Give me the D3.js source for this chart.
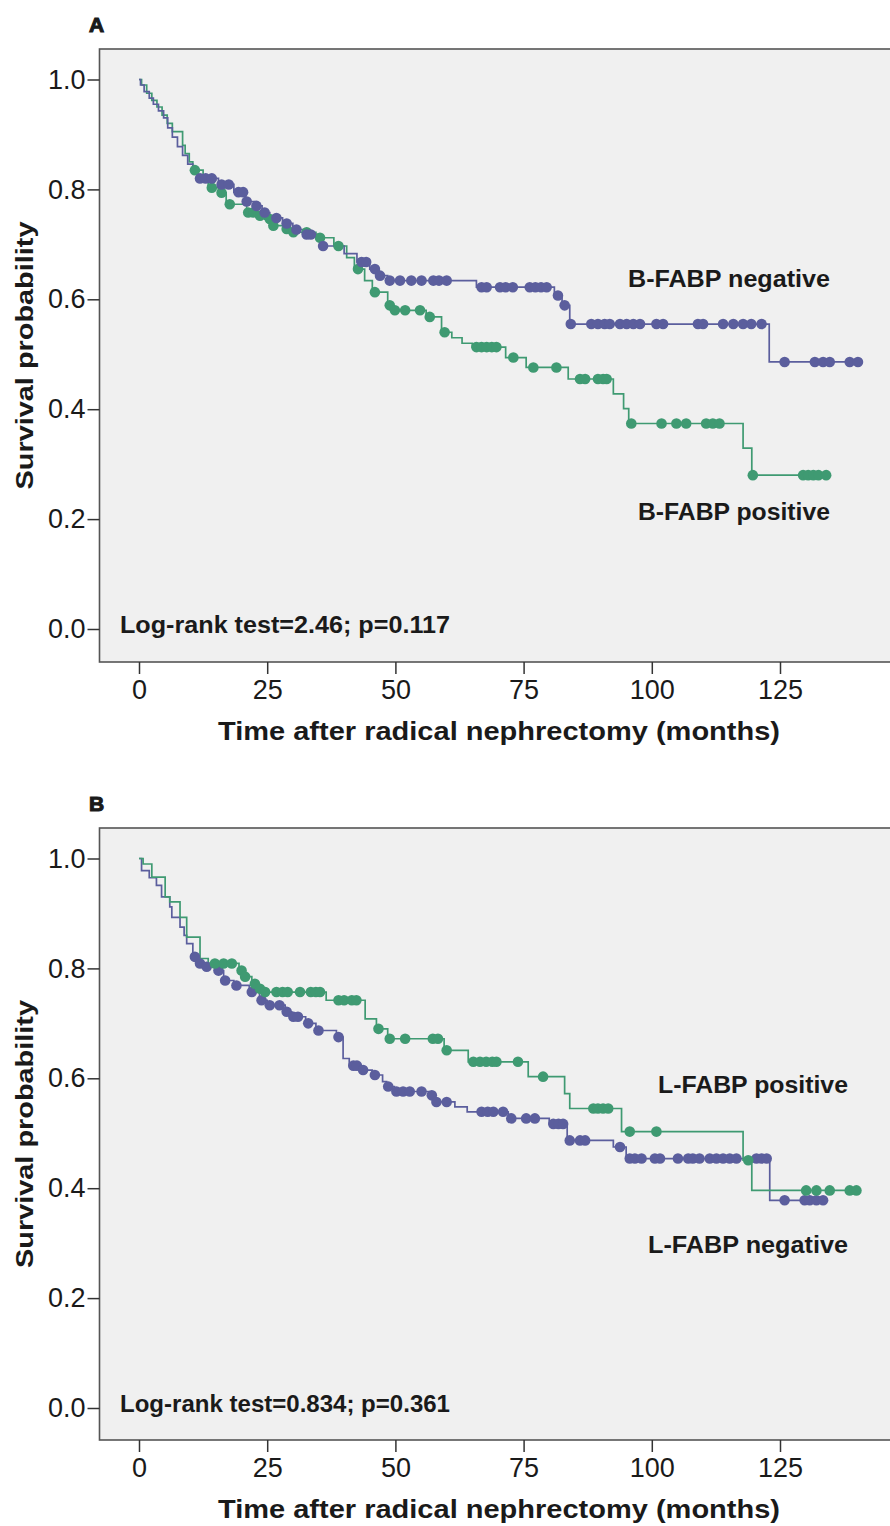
<!DOCTYPE html>
<html><head><meta charset="utf-8">
<script src="https://cdn.jsdelivr.net/npm/d3@7"></script>
<style>body{margin:0;background:#fff}svg{display:block}text{font-family:"Liberation Sans",Arial,sans-serif;fill:#1a1a1a}</style>
</head><body><svg id="c" width="890" height="1526"></svg>
<script>
const timeTicks = [0, 25, 50, 75, 100, 125];
const survTicks = [0.0, 0.2, 0.4, 0.6, 0.8, 1.0];
const panelLetters = ["A", "B"];
const xTitle = "Time after radical nephrectomy (months)";
const yTitle = "Survival probability";
const logRankTexts = ["Log-rank test=2.46; p=0.117", "Log-rank test=0.834; p=0.361"];
const groupLabelsA = ["B-FABP negative", "B-FABP positive"];
const groupLabelsB = ["L-FABP positive", "L-FABP negative"];

// Panel A, B-FABP negative: [time, survival after event]
const aNegSteps = [[0.3,0.99],[1.0,0.978],[2.0,0.966],[2.8,0.955],[3.8,0.943],[4.8,0.93],[5.6,0.912],[6.5,0.895],[7.5,0.878],[8.5,0.862],[9.5,0.846],[10.5,0.832],[11.5,0.82],[15.5,0.809],[18.5,0.795],[20.8,0.778],[22.5,0.77],[24.0,0.758],[25.5,0.748],[28.0,0.738],[30.0,0.727],[32.0,0.718],[35.5,0.697],[40.0,0.683],[42.5,0.668],[45.0,0.655],[46.8,0.643],[48.5,0.634],[65.8,0.622],[81.0,0.607],[82.5,0.589],[84.0,0.555],[122.9,0.486]];
const aNegCensor = [11.9,13.0,14.2,16.1,17.5,19.4,20.3,21.0,22.9,24.5,26.8,28.8,30.7,32.7,33.5,35.9,43.4,44.3,46.0,47.0,48.9,50.9,53.1,55.1,57.4,58.5,60.0,66.8,67.8,70.4,71.5,72.9,76.2,77.3,78.4,79.5,81.7,83.0,84.2,88.2,89.5,90.8,91.8,93.8,95.1,96.4,97.7,100.9,102.2,109.0,110.0,113.9,115.9,117.8,119.4,121.4,125.9,131.8,133.4,134.7,138.6,140.2];
// Panel A, B-FABP positive
const aPosSteps = [[0.5,0.99],[1.5,0.975],[2.5,0.962],[3.5,0.95],[4.5,0.935],[5.5,0.92],[6.5,0.905],[8.5,0.88],[9.0,0.865],[9.8,0.85],[10.5,0.835],[12.5,0.82],[13.5,0.803],[15.5,0.794],[17.0,0.773],[21.0,0.758],[23.0,0.752],[24.5,0.746],[26.0,0.734],[28.5,0.728],[30.0,0.722],[34.5,0.712],[38.0,0.697],[40.5,0.676],[42.0,0.655],[44.0,0.634],[45.5,0.613],[48.5,0.589],[49.5,0.58],[56.0,0.568],[59.0,0.54],[61.0,0.53],[63.0,0.52],[65.0,0.513],[71.5,0.494],[75.5,0.476],[83.7,0.455],[92.5,0.428],[94.5,0.401],[95.5,0.374],[117.8,0.329],[119.5,0.28]];
const aPosCensor = [10.9,14.2,16.1,17.7,21.3,22.3,23.6,25.5,26.2,28.8,30.1,32.7,35.3,38.9,42.7,46.0,48.9,49.9,51.9,54.8,56.7,59.6,65.8,66.8,67.8,68.8,69.7,73.0,76.9,81.4,86.0,87.0,89.5,90.5,91.2,96.0,101.9,104.8,106.7,110.6,111.9,113.2,119.7,129.5,130.5,131.5,132.5,134.0];
// Panel B, L-FABP negative
const bNegSteps = [[0.5,0.978],[2.0,0.965],[3.4,0.951],[4.4,0.93],[6.0,0.912],[6.4,0.893],[8.0,0.875],[8.8,0.86],[9.3,0.845],[10.5,0.821],[11.5,0.809],[13.0,0.803],[15.0,0.796],[16.5,0.778],[18.5,0.769],[21.5,0.757],[23.5,0.742],[25.0,0.733],[28.5,0.721],[29.8,0.712],[32.5,0.70],[34.5,0.687],[38.5,0.675],[39.8,0.636],[41.0,0.623],[43.0,0.615],[45.5,0.606],[47.5,0.594],[48.3,0.585],[49.8,0.576],[56.5,0.569],[57.8,0.557],[61.6,0.548],[64.0,0.539],[72.0,0.527],[80.0,0.517],[83.5,0.487],[92.5,0.475],[95.0,0.454],[123.0,0.378]];
const bNegCensor = [10.9,11.9,13.2,15.5,16.8,19.0,22.0,23.9,25.5,27.4,28.8,30.1,31.0,33.0,35.0,38.9,41.8,42.5,43.7,46.0,48.6,50.2,51.5,52.8,55.1,57.1,58.0,60.0,66.8,68.0,69.1,71.0,72.6,75.5,77.2,80.8,81.8,82.7,84.0,86.0,87.0,93.8,95.7,96.7,98.0,100.6,101.6,105.1,107.1,108.0,109.3,111.3,112.6,113.9,115.2,116.5,120.4,121.4,122.4,125.9,129.8,130.8,132.1,133.4];
// Panel B, L-FABP positive
const bPosSteps = [[0.8,0.99],[2.5,0.966],[5.1,0.93],[6.0,0.921],[8.0,0.893],[9.3,0.857],[11.9,0.818],[13.5,0.809],[19.5,0.796],[20.5,0.785],[22.0,0.772],[23.2,0.763],[24.3,0.757],[36.5,0.742],[44.1,0.708],[46.3,0.69],[48.5,0.672],[59.5,0.651],[64.2,0.63],[75.9,0.603],[83.0,0.572],[84.0,0.545],[94.1,0.503],[117.8,0.451],[119.5,0.396]];
const bPosCensor = [14.8,16.5,18.1,20.0,20.7,22.6,23.6,24.6,26.8,28.0,29.0,31.4,33.5,34.5,35.3,38.9,40.0,41.5,42.4,46.7,48.9,51.9,57.3,58.3,60.0,65.2,66.5,67.7,68.9,69.7,73.9,78.8,88.6,89.5,90.5,91.5,95.7,100.9,118.8,130.1,132.1,134.7,138.6,139.9];

const BLUE = "#5b5e9d", GREEN = "#3f9a72";

const panels = [
  {letter: panelLetters[0], top: 49, bottom: 662, logRank: logRankTexts[0],
   series: [{steps: aPosSteps, censor: aPosCensor, color: GREEN}, {steps: aNegSteps, censor: aNegCensor, color: BLUE}],
   labels: [{text: groupLabelsA[0], x: 729, y: 287, w: 202}, {text: groupLabelsA[1], x: 734, y: 520, w: 192}]},
  {letter: panelLetters[1], top: 828, bottom: 1440, logRank: logRankTexts[1],
   series: [{steps: bNegSteps, censor: bNegCensor, color: BLUE}, {steps: bPosSteps, censor: bPosCensor, color: GREEN}],
   labels: [{text: groupLabelsB[0], x: 753, y: 1093, w: 190}, {text: groupLabelsB[1], x: 748, y: 1253, w: 200}]}
];

const svg = d3.select("#c");
const left = 99.5, right = 893;
const x = d3.scaleLinear().domain([0, 125]).range([139, 780]);

function survAt(steps, t) {
  let s = 1;
  for (const [st, ss] of steps) if (st <= t) s = ss;
  return s;
}

panels.forEach(p => {
  const y = d3.scaleLinear().domain([0, 1]).range([p.top + 30 + 550, p.top + 30 + 0.5]);
  const g = svg.append("g");
  g.append("rect").attr("x", left).attr("y", p.top).attr("width", right - left).attr("height", p.bottom - p.top)
    .attr("fill", "#f0f0f0").attr("stroke", "#555").attr("stroke-width", 1.6);

  g.append("text").attr("x", 96.5).attr("y", p.top - 17).attr("text-anchor", "middle")
    .attr("font-size", 21).attr("font-weight", "bold").attr("stroke", "#1a1a1a").attr("stroke-width", 1.1)
    .text(p.letter);

  // y axis
  const ya = g.append("g").attr("transform", `translate(${left},0)`)
    .call(d3.axisLeft(y).tickValues(survTicks).tickFormat(d3.format(".1f")).tickSize(12).tickPadding(2));
  ya.select(".domain").remove();
  ya.selectAll("line").attr("stroke", "#333").attr("stroke-width", 1.5);
  ya.selectAll("text").attr("font-size", 27).attr("fill", "#222").attr("font-family", "Liberation Sans, Arial, sans-serif");

  // x axis
  const xa = g.append("g").attr("transform", `translate(0,${p.bottom})`)
    .call(d3.axisBottom(x).tickValues(timeTicks).tickFormat(d3.format("d")).tickSize(12).tickPadding(6));
  xa.select(".domain").remove();
  xa.selectAll("line").attr("stroke", "#333").attr("stroke-width", 1.5);
  xa.selectAll("text").attr("font-size", 27).attr("fill", "#222").attr("font-family", "Liberation Sans, Arial, sans-serif");

  g.append("text").attr("x", 499).attr("y", p.bottom + 78).attr("text-anchor", "middle")
    .attr("font-size", 25).attr("font-weight", "bold").attr("textLength", 562).attr("lengthAdjust", "spacingAndGlyphs").text(xTitle);

  const cy = (p.top + p.bottom) / 2;
  g.append("text").attr("transform", `translate(33,${cy}) rotate(-90)`).attr("text-anchor", "middle")
    .attr("font-size", 24).attr("font-weight", "bold").attr("textLength", 268).attr("lengthAdjust", "spacingAndGlyphs").text(yTitle);

  g.append("text").attr("x", 120).attr("y", y(0) + 4).attr("font-size", 23).attr("font-weight", "bold")
    .attr("textLength", p.logRank.length > 28 ? 344 : 330).attr("lengthAdjust", "spacingAndGlyphs").text(p.logRank);

  p.labels.forEach(l => {
    g.append("text").attr("x", l.x).attr("y", l.y).attr("text-anchor", "middle").attr("font-size", 23)
      .attr("font-weight", "bold").attr("textLength", l.w).attr("lengthAdjust", "spacingAndGlyphs").text(l.text);
  });

  const line = d3.line().x(d => x(d[0])).y(d => y(d[1])).curve(d3.curveStepAfter);
  p.series.forEach(s => {
    const end = d3.max(s.censor);
    const pts = [[0, 1], ...s.steps, [end, survAt(s.steps, end)]];
    g.append("path").attr("d", line(pts)).attr("fill", "none").attr("stroke", s.color).attr("stroke-width", 1.7);
  });
  p.series.forEach(s => {
    g.selectAll(null).data(s.censor).enter().append("circle")
      .attr("cx", d => x(d)).attr("cy", d => y(survAt(s.steps, d))).attr("r", 5.3).attr("fill", s.color);
  });
});
</script></body></html>
